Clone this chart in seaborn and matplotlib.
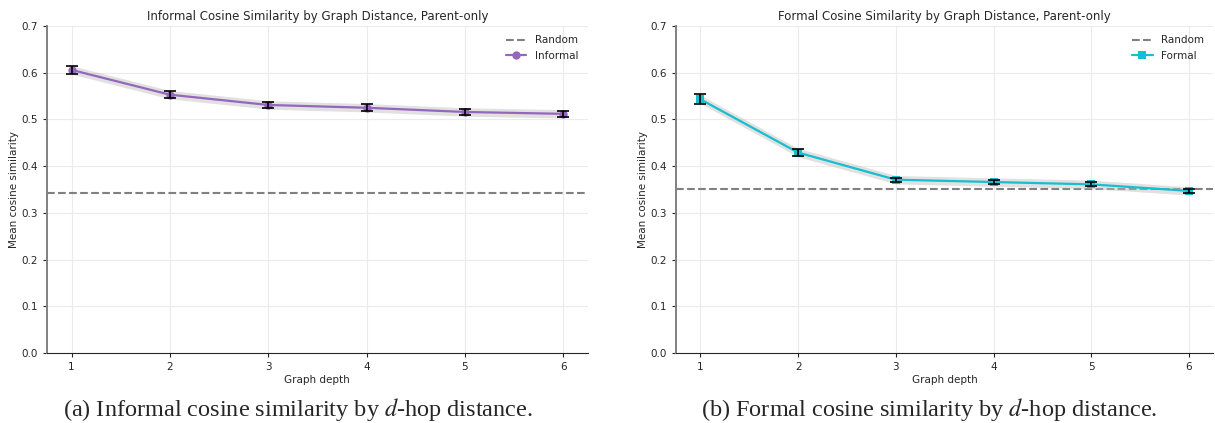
import numpy as np
import pandas as pd
import matplotlib
matplotlib.use("Agg")
import matplotlib.pyplot as plt
import seaborn as sns

# values
depths = [1, 2, 3, 4, 5, 6]
informal_mean = [0.606, 0.553, 0.531, 0.525, 0.516, 0.512]
informal_err = [0.008, 0.008, 0.007, 0.007, 0.007, 0.007]
informal_random = 0.343
formal_mean = [0.543, 0.429, 0.371, 0.366, 0.361, 0.347]
formal_err = [0.011, 0.007, 0.004, 0.004, 0.004, 0.004]
formal_random = 0.351

sns.set_style("ticks")
plt.rcParams['font.family'] = ['DejaVu Sans']
plt.rcParams['mathtext.fontset'] = 'stix'

fig = plt.figure(figsize=(12.15, 4.23), dpi=100)
ax_a = fig.add_axes([0.0387, 0.1655, 0.445, 0.773])
ax_b = fig.add_axes([0.5564, 0.1655, 0.4422, 0.773])


def draw_panel(ax, mean, err, rand, name, color, marker, title):
    df = pd.DataFrame({'depth': depths, 'mean': mean, 'err': err})
    ax.axhline(rand, color='#808080', ls='--', lw=1.5, label='Random', zorder=2)
    ax.fill_between(df['depth'], df['mean'] - 0.009, df['mean'] + 0.009,
                    color='#bdbdbd', alpha=0.45, lw=0, zorder=2)
    sns.lineplot(data=df, x='depth', y='mean', ax=ax, color=color, marker=marker,
                 markersize=6, markeredgewidth=0, lw=1.6, label=name, zorder=3)
    ax.errorbar(df['depth'], df['mean'], yerr=df['err'], fmt='none',
                ecolor='black', elinewidth=1.2, capsize=4, capthick=1.2, zorder=4)
    ax.set_xlim(0.75, 6.25)
    ax.set_ylim(0, 0.7)
    ax.set_xticks(depths)
    ax.set_yticks(np.arange(0, 0.71, 0.1))
    ax.set_yticklabels([f'{v:.1f}' for v in np.arange(0, 0.71, 0.1)])
    ax.grid(True, color='#ebebeb', lw=0.8)
    ax.set_axisbelow(True)
    ax.tick_params(labelsize=7.5, length=3, width=0.8)
    ax.set_xlabel('Graph depth', fontsize=7.5, labelpad=2)
    ax.set_ylabel('Mean cosine similarity', fontsize=7.5, labelpad=2)
    ax.set_title(title, fontsize=8.5, pad=4)
    sns.despine(ax=ax)
    ax.spines['left'].set_color('#808080')
    ax.spines['left'].set_linewidth(1.4)
    ax.legend(loc='upper right', frameon=False, fontsize=7.5, handlelength=2)


draw_panel(ax_a, informal_mean, informal_err, informal_random, 'Informal',
           '#9467bd', 'o', 'Informal Cosine Similarity by Graph Distance, Parent-only')
draw_panel(ax_b, formal_mean, formal_err, formal_random, 'Formal',
           '#17becf', 's', 'Formal Cosine Similarity by Graph Distance, Parent-only')

fig.text(0.245, 0.017, r'(a) Informal cosine similarity by $d$-hop distance.',
         ha='center', va='baseline', fontsize=17.5, family='Liberation Serif')
fig.text(0.765, 0.017, r'(b) Formal cosine similarity by $d$-hop distance.',
         ha='center', va='baseline', fontsize=17.5, family='Liberation Serif')

fig.savefig('out.png', dpi=100)
